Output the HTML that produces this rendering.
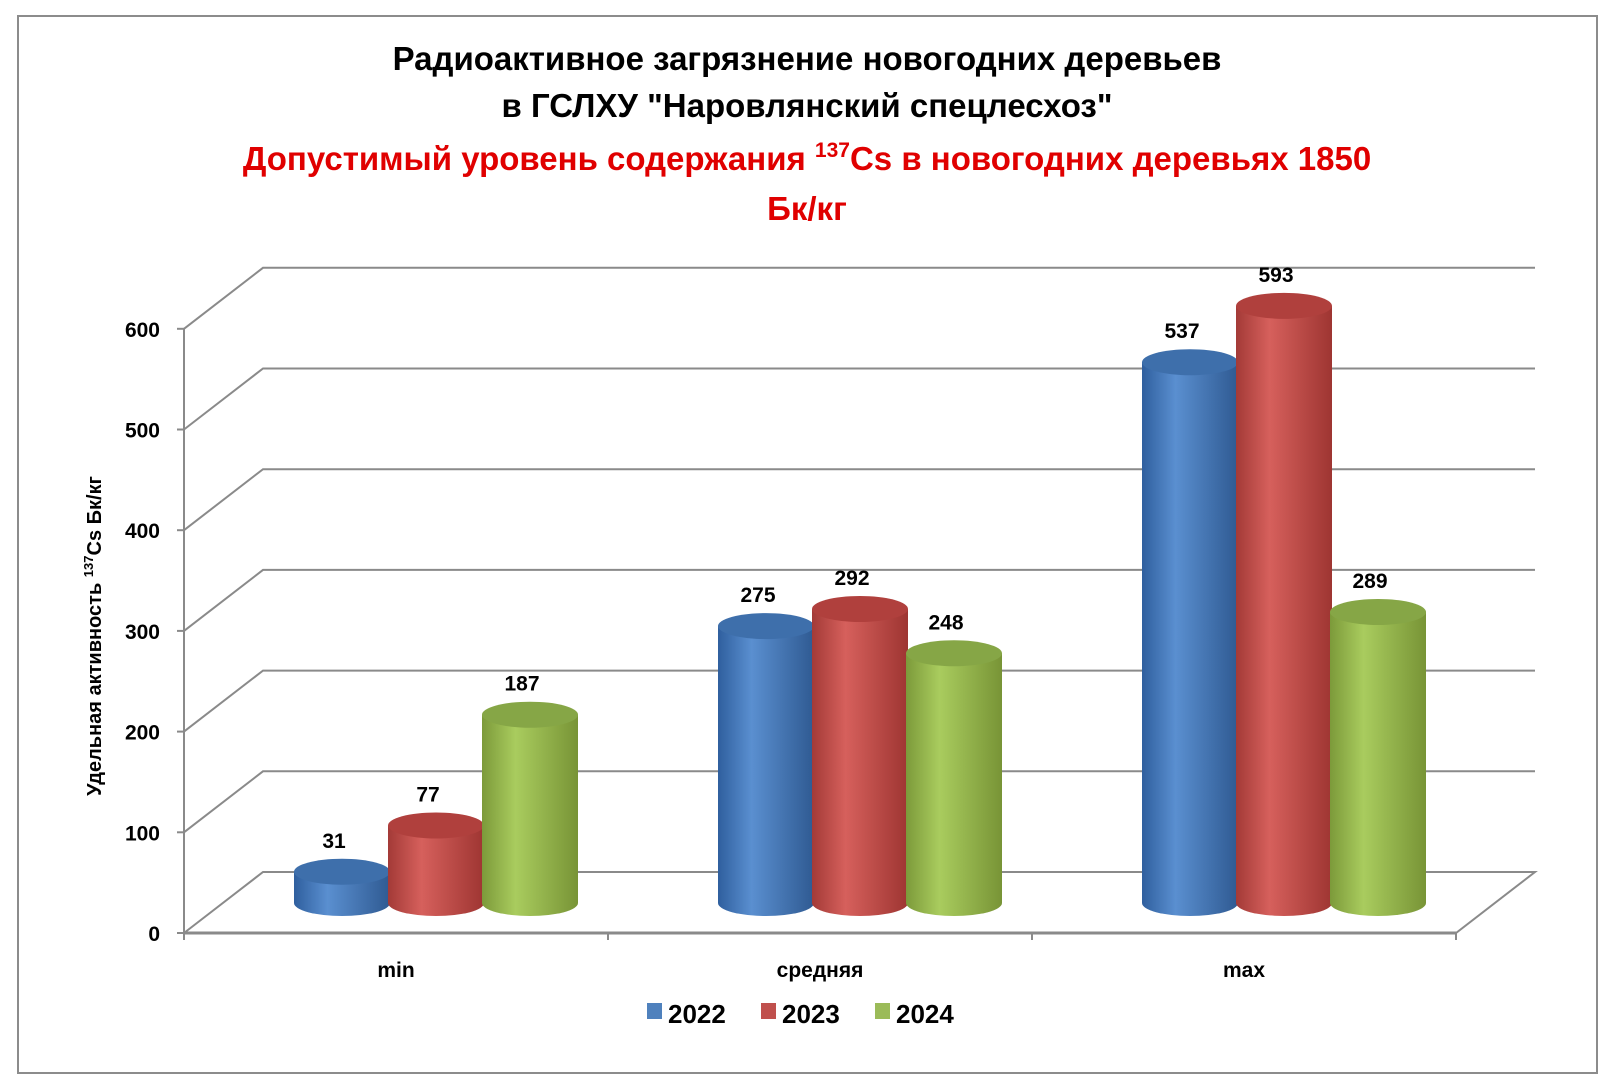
<!DOCTYPE html>
<html><head><meta charset="utf-8">
<style>
html,body{margin:0;padding:0;background:#fff;}
svg{display:block;font-family:"Liberation Sans",sans-serif;}
</style></head>
<body>
<svg id="chart" width="1614" height="1080" viewBox="0 0 1614 1080">
<defs>
<linearGradient id="gb" x1="0" x2="1"><stop offset="0" stop-color="#2f5f9e"/><stop offset="0.35" stop-color="#5a8fd0"/><stop offset="1" stop-color="#2f5a92"/></linearGradient>
<linearGradient id="gr" x1="0" x2="1"><stop offset="0" stop-color="#a33a37"/><stop offset="0.35" stop-color="#d6605c"/><stop offset="1" stop-color="#9e3532"/></linearGradient>
<linearGradient id="gg" x1="0" x2="1"><stop offset="0" stop-color="#7c9a3a"/><stop offset="0.35" stop-color="#a9cc5e"/><stop offset="1" stop-color="#789436"/></linearGradient>
</defs>
<rect x="18" y="16" width="1579" height="1057" fill="#fff" stroke="#8c8c8c" stroke-width="2"/>
<g font-weight="bold" text-anchor="middle" font-size="33">
<text x="807" y="70" fill="#000">Радиоактивное загрязнение новогодних деревьев</text>
<text x="807" y="117" fill="#000">в ГСЛХУ "Наровлянский спецлесхоз"</text>
<text x="807" y="170" fill="#e00000">Допустимый уровень содержания <tspan font-size="21" dy="-13">137</tspan><tspan dy="13">Cs в новогодних деревьях 1850</tspan></text>
<text x="807" y="220" fill="#e00000">Бк/кг</text>
</g>
<g id="grid"></g>
<g id="bars"></g>
<text transform="translate(101,636) rotate(-90)" text-anchor="middle" font-weight="bold" font-size="20">Удельная активность <tspan font-size="13" dy="-8">137</tspan><tspan dy="8">Cs Бк/кг</tspan></text>
<g font-weight="bold" font-size="26">
<rect x="647" y="1003" width="15" height="16" fill="#4f81bd"/>
<text x="668" y="1023">2022</text>
<rect x="761" y="1003" width="15" height="16" fill="#c0504d"/>
<text x="782" y="1023">2023</text>
<rect x="875" y="1003" width="15" height="16" fill="#9bbb59"/>
<text x="896" y="1023">2024</text>
</g>
</svg>
<script>
const categories = ["min", "средняя", "max"];
const series2022 = [31, 275, 537];
const series2023 = [77, 292, 593];
const series2024 = [187, 248, 289];
const seriesNames = ["2022", "2023", "2024"];
const yTicks = [0, 100, 200, 300, 400, 500, 600];

const NS = "http://www.w3.org/2000/svg";
const X0 = 184, X1 = 1456, Y0 = 933, PX = 1.007, DX = 79, DY = -61;
const BASE = 903;
function yScale(v){ return Y0 - v*PX; }
function hScale(v){ return v*PX; }
function mk(tag, attrs, parent){ const e=document.createElementNS(NS,tag); for(const k in attrs) e.setAttribute(k,attrs[k]); parent.appendChild(e); return e; }
const grid = document.getElementById('grid');
const stroke = "#8a8a8a";
// gridlines
yTicks.forEach(t=>{
  const y = yScale(t);
  if(t>0){
    const p = mk('path',{d:`M${X0} ${y} L${X0+DX} ${y+DY} L${X1+DX} ${y+DY}`,fill:'none',stroke:stroke,'stroke-width':2},grid);
    
    
  }
  const tk = mk('line',{x1:X0-7,y1:y,x2:X0,y2:y,stroke:stroke,'stroke-width':2},grid);
  
  
  const lb = mk('text',{x:X0-24,y:y+8,'text-anchor':'end','font-weight':'bold','font-size':21},grid);
  lb.textContent = t;
  
  
});
// floor
const fl = mk('path',{d:`M${X0} ${Y0} L${X0+DX} ${Y0+DY} L${X1+DX} ${Y0+DY} L${X1} ${Y0} Z`,fill:'none',stroke:stroke,'stroke-width':2},grid);


const ax = mk('line',{x1:X0,y1:yScale(600),x2:X0,y2:Y0+7,stroke:stroke,'stroke-width':2},grid);


const xa = mk('line',{x1:X0,y1:Y0,x2:X1,y2:Y0,stroke:stroke,'stroke-width':3},grid);


const gw = (X1-X0)/categories.length;
for(let i=0;i<=categories.length;i++){
  const t = mk('line',{x1:X0+gw*i,y1:Y0,x2:X0+gw*i,y2:Y0+7,stroke:stroke,'stroke-width':2},grid);
  
  
}
categories.forEach((c,i)=>{
  const t = mk('text',{x:X0+gw*(i+0.5),y:Y0+44,'text-anchor':'middle','font-weight':'bold','font-size':21},grid);
  t.textContent = c;
  
  
});
// bars
const bars = document.getElementById('bars');
const all = [series2022, series2023, series2024];
const grads = ['gb','gr','gg'];
const tops = ['#3e6fab','#b0403d','#86a646'];
const R = 48, RY = 13, BW = 94;
categories.forEach((c,i)=>{
  const gc = X0 + gw*(i+0.5) + 40;
  all.forEach((s,j)=>{
    const cx = gc + (j-1)*BW;
    const top = BASE - hScale(s[i]);
    const g = mk('g',{},bars);
    
    
    mk('path',{d:`M${cx-R} ${top} L${cx-R} ${BASE} A${R} ${RY} 0 0 0 ${cx+R} ${BASE} L${cx+R} ${top} Z`,fill:`url(#${grads[j]})`},g);
    mk('ellipse',{cx:cx,cy:top,rx:R,ry:RY,fill:tops[j]},g);
    const lb = mk('text',{x:cx-8,y:top-24,'text-anchor':'middle','font-weight':'bold','font-size':21},bars);
    lb.textContent = s[i];
    
    
  });
});
</script>
</body></html>
